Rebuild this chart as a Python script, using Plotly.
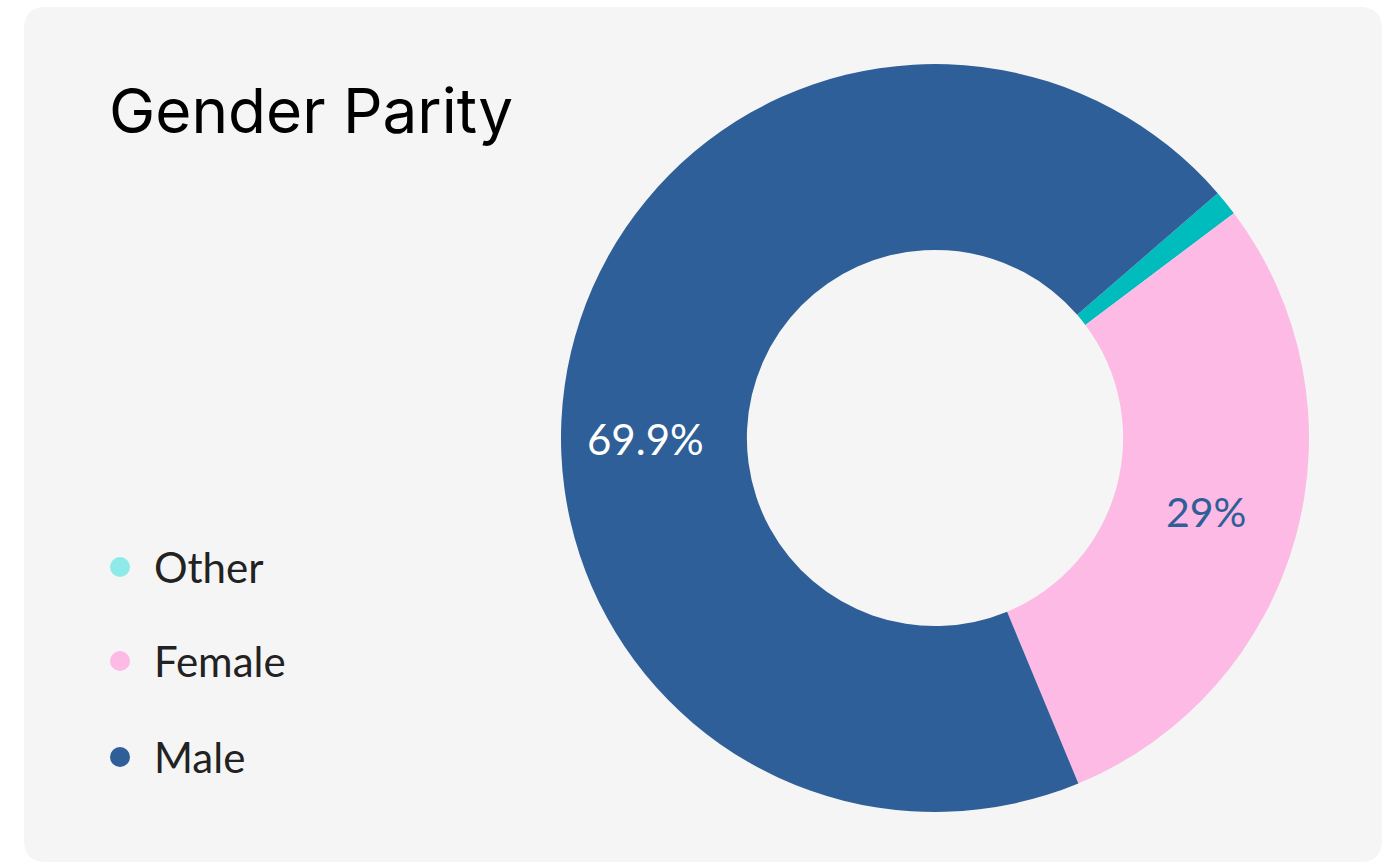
import plotly.graph_objects as go

W, H = 1384, 864

labels = ["Other", "Female", "Male"]
values = [1.1, 29.0, 69.9]
slice_text = ["", "29%", ""]
outer_label = "69.9%"
slice_colors = ["#00bcbc", "#fdbae4", "#2f5f98"]
legend_colors = ["#8eeae8", "#fdbae4", "#2f5f98"]
text_colors = ["#ffffff", "#2f5f98", "#ffffff"]


def px(x):
    return x / W


def py(y):
    return 1 - y / H


fig = go.Figure()

# donut placement (pixels)
cx, cy, R = 935, 438, 374
fig.add_trace(go.Pie(
    labels=labels,
    values=values,
    text=slice_text,
    textinfo="text",
    textposition="inside",
    insidetextorientation="horizontal",
    hole=0.503,
    sort=False,
    direction="clockwise",
    rotation=49.1,
    marker=dict(colors=slice_colors, line=dict(width=0)),
    insidetextfont=dict(family="Lato, sans-serif", size=41, color=text_colors),
    domain=dict(x=[px(cx - R), px(cx + R)], y=[py(cy + R), py(cy - R)]),
    showlegend=False,
    hoverinfo="label+percent",
))

# rounded card background
x0, y0, x1, y1, r = 24, 7, 1382, 862, 22
path = (
    f"M {px(x0 + r)},{py(y0)} L {px(x1 - r)},{py(y0)} "
    f"Q {px(x1)},{py(y0)} {px(x1)},{py(y0 + r)} "
    f"L {px(x1)},{py(y1 - r)} Q {px(x1)},{py(y1)} {px(x1 - r)},{py(y1)} "
    f"L {px(x0 + r)},{py(y1)} Q {px(x0)},{py(y1)} {px(x0)},{py(y1 - r)} "
    f"L {px(x0)},{py(y0 + r)} Q {px(x0)},{py(y0)} {px(x0 + r)},{py(y0)} Z"
)
shapes = [dict(type="path", xref="paper", yref="paper", path=path,
               fillcolor="#f5f5f5", line=dict(width=0), layer="below")]

annotations = [
    dict(text="Gender Parity", xref="paper", yref="paper",
         x=px(107), y=py(110), xanchor="left", yanchor="middle",
         showarrow=False, font=dict(family="Inter, sans-serif", size=62, color="#000000")),
    dict(text=outer_label, xref="paper", yref="paper",
         x=px(645), y=py(439), xanchor="center", yanchor="middle",
         showarrow=False, font=dict(family="Lato, sans-serif", size=42, color="#ffffff")),
]

legend_y = [567, 661, 757]
for lab, col, ly in zip(labels, legend_colors, legend_y):
    rr = 10
    shapes.append(dict(type="circle", xref="paper", yref="paper",
                       x0=px(120 - rr), x1=px(120 + rr), y0=py(ly + rr), y1=py(ly - rr),
                       fillcolor=col, line=dict(width=0)))
    annotations.append(dict(
        text=lab, xref="paper", yref="paper", x=px(152), y=py(ly),
        xanchor="left", yanchor="middle", showarrow=False,
        font=dict(family="Lato, sans-serif", size=42, color="#222222"),
    ))

fig.update_layout(
    width=W, height=H,
    margin=dict(l=0, r=0, t=0, b=0),
    paper_bgcolor="#ffffff",
    plot_bgcolor="#ffffff",
    shapes=shapes,
    annotations=annotations,
)

fig.write_html("out.html")
